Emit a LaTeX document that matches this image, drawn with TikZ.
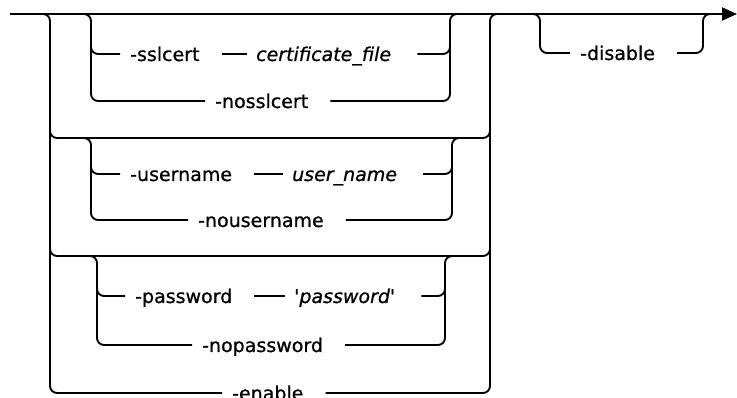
\documentclass[tikz,border=0pt]{standalone}
\usepackage{fontspec}
\setmainfont{DejaVu Sans}
\newfontfamily\railfont{DejaVu Sans}[FakeBold=0.8]
\usetikzlibrary{arrows.meta}

\tikzset{
  track/.style={line width=1.9pt, rounded corners=7pt},
  kw/.style={anchor=base west, inner xsep=0pt, inner ysep=0pt, text height=15pt, text depth=1pt,
    font=\railfont\fontsize{19}{22}\selectfont,
    execute at begin node=\hspace*{10pt}, execute at end node=\hspace*{22pt}},
  var/.style={anchor=base west, inner xsep=0pt, inner ysep=0pt, text height=15pt, text depth=1pt,
    font=\railfont\fontsize{19}{22}\selectfont\itshape,
    execute at begin node=\hspace*{9pt}, execute at end node=\hspace*{26pt}}
}

\begin{document}
\begin{tikzpicture}[x=1pt,y=-1pt,>={Triangle[length=15pt,width=13pt]}]
\useasboundingbox (0,0) rectangle (737,398);

% keywords and variables
\node[kw] (ssl) at (120,61) {-sslcert};
\node[var] (cf) at (247,61) {certificate\_file};
\node[kw] (nossl) at (205,108) {-nosslcert};
\node[kw] (usr) at (120,181) {-username};
\node[var] (uname) at (283,181) {user\_name};
\node[kw] (nousr) at (188,227) {-nousername};
\node[kw] (pwd) at (125,303) {-password};
\node[var] (pval) at (285,303) {\textquotesingle password\textquotesingle};
\node[kw] (nopwd) at (192,352) {-nopassword};
\node[kw] (en) at (222,400) {-enable};
\node[kw] (dis) at (570,60) {-disable};

% main line
\coordinate (in) at (10,14);
\coordinate (out) at (737,14);
\draw[track,->] (in) -- (out);

% outer choice
\coordinate (ol) at (50,14);
\coordinate (or) at (490,14);
\draw[track] (35,14) -- (ol) |- (en.west);
\draw[track] (en.east) -| (or) -- (505,14);
\draw[track] (50,120) |- (470,138) -| (490,120);
\draw[track] (50,240) |- (470,256) -| (490,240);

% sslcert
\draw[track] (75,14) -- (91,14) |- (ssl.west);
\draw[track] (91,40) |- (nossl.west);
\draw[track] (ssl.east) -- (cf.west);
\draw[track] (cf.east) -| (450,14) -- (465,14);
\draw[track] (nossl.east) -| (450,40);

% username
\draw[track] (75,138) -- (91,138) |- (usr.west);
\draw[track] (91,160) |- (nousr.west);
\draw[track] (usr.east) -- (uname.west);
\draw[track] (uname.east) -| (452,138) -- (467,138);
\draw[track] (nousr.east) -| (452,160);

% password
\draw[track] (80,256) -- (97,256) |- (pwd.west);
\draw[track] (97,280) |- (nopwd.west);
\draw[track] (pwd.east) -- (pval.west);
\draw[track] (pval.east) -| (445,256) -- (460,256);
\draw[track] (nopwd.east) -| (445,280);

% disable
\draw[track] (525,14) -- (540,14) |- (dis.west);
\draw[track] (dis.east) -| (703,14) -- (715,14);
\end{tikzpicture}
\end{document}
